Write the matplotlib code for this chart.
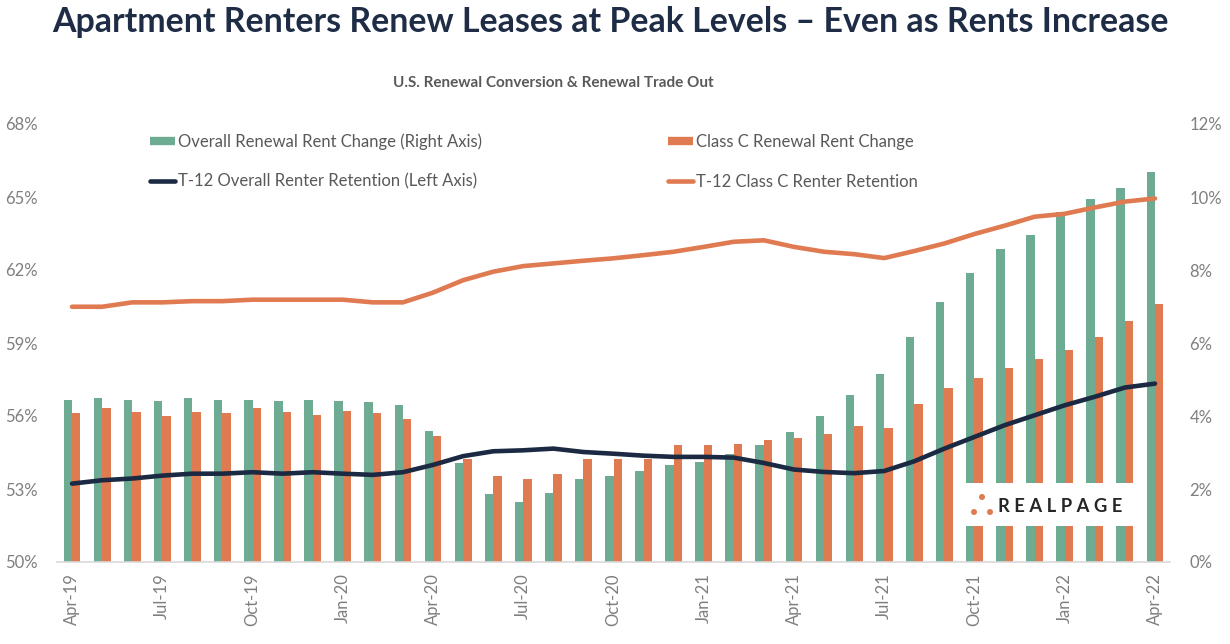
#!/usr/bin/env python3
# Renewal conversion & renewal trade out chart (RealPage style)

import matplotlib
matplotlib.use('Agg')
import matplotlib.pyplot as plt
from matplotlib.lines import Line2D
from matplotlib.patches import Rectangle, Ellipse
import numpy as np
import pandas as pd

months = list(pd.date_range('2019-04-01', periods=37, freq='MS').strftime('%b-%y'))

# right axis, %
overall_rent_chg = [4.45, 4.50, 4.45, 4.41, 4.50, 4.45, 4.45, 4.41, 4.45, 4.41, 4.38, 4.30,
                    3.60, 2.71, 1.85, 1.65, 1.88, 2.28, 2.35, 2.50, 2.66, 2.73, 2.97, 3.21,
                    3.56, 3.99, 4.57, 5.16, 6.17, 7.11, 7.92, 8.58, 8.97, 9.60, 9.94, 10.25, 10.69]
classc_rent_chg = [4.07, 4.22, 4.10, 3.99, 4.10, 4.07, 4.22, 4.10, 4.03, 4.14, 4.07, 3.91,
                   3.45, 2.83, 2.35, 2.28, 2.42, 2.83, 2.81, 2.81, 3.21, 3.21, 3.24, 3.33,
                   3.40, 3.52, 3.72, 3.67, 4.34, 4.77, 5.04, 5.31, 5.55, 5.82, 6.17, 6.60, 7.06]

# left axis, %
overall_retention = [53.22, 53.36, 53.43, 53.55, 53.63, 53.63, 53.69, 53.63, 53.69, 53.63, 53.58, 53.69,
                     53.99, 54.35, 54.55, 54.59, 54.66, 54.52, 54.45, 54.37, 54.32, 54.32, 54.29, 54.07,
                     53.80, 53.70, 53.65, 53.74, 54.14, 54.66, 55.14, 55.62, 56.03, 56.44, 56.79, 57.17, 57.33]
classc_retention = [60.49, 60.49, 60.67, 60.67, 60.72, 60.72, 60.78, 60.78, 60.78, 60.78, 60.67, 60.67,
                    61.07, 61.58, 61.93, 62.16, 62.27, 62.38, 62.48, 62.61, 62.75, 62.95, 63.16, 63.22,
                    62.95, 62.75, 62.65, 62.49, 62.78, 63.09, 63.48, 63.82, 64.19, 64.31, 64.57, 64.81, 64.94]

green = '#6dab92'
orange = '#e07a50'
navy = '#1b2a42'
grey_txt = '#7f7f7f'
legend_txt = '#595959'

plt.rcParams['font.family'] = ['Lato', 'DejaVu Sans']

W, H = 1230, 644
fig = plt.figure(figsize=(W / 100, H / 100), dpi=100)

def fx(px):
    return px / W

def fy(py):
    return 1 - py / H

ax = fig.add_axes([fx(57), fy(562), fx(1170) - fx(57), fy(124) - fy(562)])
axr = ax.twinx()
ax.set_zorder(axr.get_zorder() + 1)
ax.patch.set_visible(False)

x = np.arange(len(months))
bw = 0.28
axr.bar(x - bw / 2, overall_rent_chg, width=bw, color=green, zorder=2)
axr.bar(x + bw / 2, classc_rent_chg, width=bw, color=orange, zorder=2)

ax.plot(x, overall_retention, color=navy, lw=3.3, solid_capstyle='round', solid_joinstyle='round')
ax.plot(x, classc_retention, color=orange, lw=3.3, solid_capstyle='round', solid_joinstyle='round')

ax.set_xlim(-0.5, len(months) - 0.5)
ax.set_ylim(50, 68)
axr.set_ylim(0, 12)
ax.set_yticks(np.arange(50, 69, 3))
ax.set_yticklabels(['{}%'.format(v) for v in range(50, 69, 3)])
axr.set_yticks(np.arange(0, 13, 2))
axr.set_yticklabels(['{}%'.format(v) for v in range(0, 13, 2)])

ax.set_xticks(x[::3])
ax.set_xticklabels(months[::3], rotation=90)

for a in (ax, axr):
    for s in a.spines.values():
        s.set_visible(False)
    a.tick_params(length=0, labelsize=12, colors=grey_txt)
ax.tick_params(axis='y', pad=14)
axr.tick_params(axis='y', pad=14)
ax.tick_params(axis='x', pad=8)
ax.spines['bottom'].set_visible(True)
ax.spines['bottom'].set_color('#d9d9d9')
ax.spines['bottom'].set_linewidth(1.2)

handles = [
    Line2D([], [], color=green, lw=6, solid_capstyle='butt'),
    Line2D([], [], color=navy, lw=3.3, solid_capstyle='round'),
    Line2D([], [], color=orange, lw=6, solid_capstyle='butt'),
    Line2D([], [], color=orange, lw=3.3, solid_capstyle='round'),
]
labels = ['Overall Renewal Rent Change (Right Axis)',
          'T-12 Overall Renter Retention (Left Axis)',
          'Class C Renewal Rent Change',
          'T-12 Class C Renter Retention']
leg = fig.legend(handles, labels, ncol=2, loc='upper left',
                 bbox_to_anchor=(fx(135), fy(118)), frameon=False,
                 fontsize=12, handlelength=1.5, handletextpad=0.15,
                 columnspacing=11.2, labelspacing=1.45)
for t in leg.get_texts():
    t.set_color(legend_txt)

fig.text(fx(610), fy(22), 'Apartment Renters Renew Leases at Peak Levels \u2013 Even as Rents Increase',
         ha='center', va='center', fontsize=24.4, fontweight='bold', color='#1e2c46')
fig.text(fx(553), fy(83), 'U.S. Renewal Conversion & Renewal Trade Out',
         ha='center', va='center', fontsize=11, fontweight='bold', color='#595959')

# logo box
fig.add_artist(Rectangle((fx(962), fy(526)), fx(1138) - fx(962), fy(483) - fy(526),
                         transform=fig.transFigure, facecolor='white', edgecolor='none', zorder=5))
for cx, cy in [(982, 497), (974, 512), (990, 512)]:
    fig.add_artist(Ellipse((fx(cx), fy(cy)), fx(6), 6 / H, transform=fig.transFigure,
                           facecolor=orange, edgecolor='none', zorder=6))
fig.text(fx(998), fy(507), 'R E A L P A G E', ha='left', va='center', fontsize=13.2,
         fontweight='bold', color='#262626', zorder=6)

fig.savefig('out.png', dpi=100)
print('Generated: out.png')
